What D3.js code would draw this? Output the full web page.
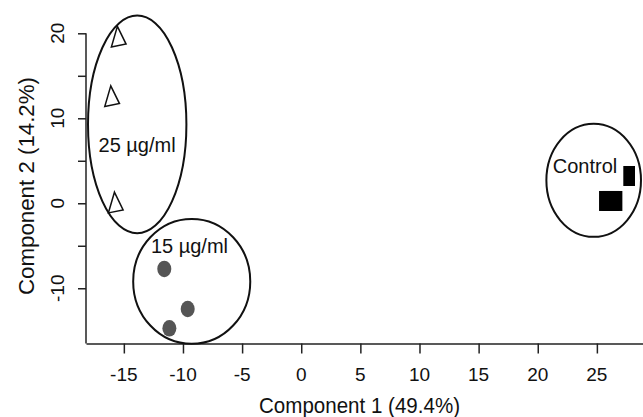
<!DOCTYPE html>
<html>
<head>
<meta charset="utf-8">
<script src="https://cdn.jsdelivr.net/npm/d3@7"></script>
<style>
  body { margin: 0; background: #fff; }
  svg { display: block; font-family: "Liberation Sans", Arial, sans-serif; }
  .axis path, .axis line { stroke: #222; stroke-width: 1.5; }
</style>
</head>
<body>
<div id="chart"></div>
<script>
// score plot data
const groups = ["25 µg/ml", "15 µg/ml", "Control"];

const tri_x = [-15.47, -16.03, -15.72];
const tri_y = [19.31, 12.31, -0.2];

const dot_x = [-11.58, -9.6, -11.15];
const dot_y = [-7.73, -12.44, -14.71];

const ctl_x = [26.03, 26.31, 28.08];
const ctl_y = [0.27, 0.27, 3.21];

// group ellipses: centre and radii in data units
const ell_cx = [-13.87, -9.26, 24.73];
const ell_cy = [9.28, -9.19, 2.7];
const ell_rx = [4.16, 4.95, 4.0];
const ell_ry = [12.8, 7.35, 6.65];

// label anchor in data units
const lab_x = [-13.88, -9.45, 24.0];
const lab_y = [6.0, -5.85, 3.57];

const xTicks = [-15, -10, -5, 0, 5, 10, 15, 20, 25];
const yTicks = [20, 15, 10, 5, 0, -5, -10];
const yLabels = [20, 10, 0, -10];

const xTitle = "Component 1 (49.4%)";
const yTitle = "Component 2 (14.2%)";

const clipX = 28.23; // points are cut off at the plot edge

const W = 643, H = 417;
const margin = {top: 33.3, right: 0, bottom: 73.5, left: 86};

const svg = d3.select("#chart").append("svg")
  .attr("width", W)
  .attr("height", H);

const x = d3.scaleLinear().domain([-18.2, 28.9]).range([margin.left, W - margin.right]);
const y = d3.scaleLinear().domain([-16.5, 20]).range([H - margin.bottom, margin.top]);

// x axis
svg.append("g")
  .attr("class", "x axis")
  .attr("transform", "translate(0," + y(-16.5) + ")")
  .call(d3.axisBottom(x).tickValues(xTicks).tickSize(10).tickSizeOuter(0).tickFormat(d3.format("d")))
  .call(g => g.selectAll("text").remove());

svg.append("g").selectAll("text")
  .data(xTicks)
  .join("text")
  .attr("x", d => x(d))
  .attr("y", 380.7)
  .attr("text-anchor", "middle")
  .attr("font-size", 19)
  .attr("fill", "#111")
  .text(d => d);

// y axis, line only from the top tick down
const yAxis = svg.append("g")
  .attr("class", "y axis")
  .attr("transform", "translate(" + margin.left + ",0)")
  .call(d3.axisLeft(y).tickValues(yTicks).tickSize(8).tickSizeOuter(0).tickFormat(""));
yAxis.select(".domain").attr("d", "M0," + y(20) + "V" + y(-16.5));

svg.append("g").selectAll("text")
  .data(yLabels)
  .join("text")
  .attr("transform", d => "translate(63.5," + y(d) + ") rotate(-90)")
  .attr("text-anchor", "middle")
  .attr("font-size", 19)
  .attr("fill", "#111")
  .text(d => d);

// titles
svg.append("text")
  .attr("x", 359.5)
  .attr("y", 413)
  .attr("text-anchor", "middle")
  .attr("font-size", 22)
  .attr("textLength", 201)
  .attr("lengthAdjust", "spacingAndGlyphs")
  .attr("fill", "#111")
  .text(xTitle);

svg.append("text")
  .attr("transform", "translate(34,186) rotate(-90)")
  .attr("text-anchor", "middle")
  .attr("font-size", 22)
  .attr("textLength", 218)
  .attr("lengthAdjust", "spacingAndGlyphs")
  .attr("fill", "#111")
  .text(yTitle);

// group ellipses
svg.append("g").selectAll("ellipse")
  .data(groups)
  .join("ellipse")
  .attr("cx", (d, i) => x(ell_cx[i]))
  .attr("cy", (d, i) => y(ell_cy[i]))
  .attr("rx", (d, i) => x(ell_rx[i]) - x(0))
  .attr("ry", (d, i) => y(0) - y(ell_ry[i]))
  .attr("fill", "none")
  .attr("stroke", "#111")
  .attr("stroke-width", 2);

svg.append("g").selectAll("text")
  .data(groups)
  .join("text")
  .attr("x", (d, i) => x(lab_x[i]))
  .attr("y", (d, i) => y(lab_y[i]))
  .attr("text-anchor", "middle")
  .attr("font-size", 20)
  .attr("fill", "#111")
  .text(d => d);

// open triangles (tilted, as in the original)
const triShape = "M-0.9,-12.8L-6.9,7.9L7.8,4.9Z";
svg.append("g").selectAll("path")
  .data(tri_x)
  .join("path")
  .attr("transform", (d, i) => "translate(" + x(d) + "," + y(tri_y[i]) + ")")
  .attr("d", triShape)
  .attr("fill", "#fff")
  .attr("stroke", "#111")
  .attr("stroke-width", 1.5);

// grey dots
svg.append("g").selectAll("ellipse")
  .data(dot_x)
  .join("ellipse")
  .attr("cx", d => x(d))
  .attr("cy", (d, i) => y(dot_y[i]))
  .attr("rx", 7)
  .attr("ry", 8.3)
  .attr("fill", "#555");

// black squares, clipped at the plot edge
svg.append("clipPath").attr("id", "plotclip")
  .append("rect")
  .attr("x", margin.left)
  .attr("y", 0)
  .attr("width", x(clipX) - margin.left)
  .attr("height", H);

svg.append("g")
  .attr("clip-path", "url(#plotclip)")
  .selectAll("rect")
  .data(ctl_x)
  .join("rect")
  .attr("x", d => x(d) - 10)
  .attr("y", (d, i) => y(ctl_y[i]) - 10)
  .attr("width", 20)
  .attr("height", 20)
  .attr("fill", "#000");
</script>
</body>
</html>
